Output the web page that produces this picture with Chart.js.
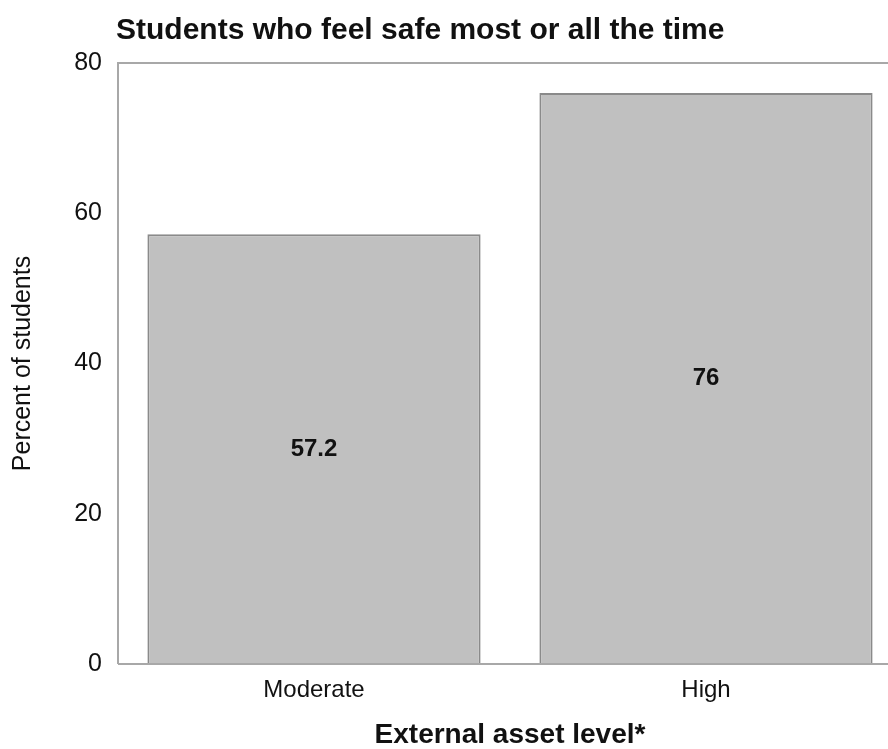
<!DOCTYPE html>
<html>
<head>
<meta charset="utf-8">
<script src="https://cdn.jsdelivr.net/npm/chart.js@4.4.1/dist/chart.umd.min.js"></script>
<style>
  html, body { margin: 0; padding: 0; background: #fff; overflow: hidden; }
  .wrap { width: 902px; height: 749px; }
</style>
</head>
<body>
<div class="wrap"><canvas id="safeChart" width="902" height="749"></canvas></div>
<script>
const categories = ['Moderate', 'High']
const percentSafe = [57.2, 76]
const yTicks = [0, 20, 40, 60, 80]
const chartTitle = 'Students who feel safe most or all the time'

const FONT = '"Liberation Sans", Arial, sans-serif'

// frame, title and value labels
const decorPlugin = {
  id: 'decor',
  afterDraw(chart) {
    const { ctx, chartArea } = chart
    ctx.save()
    ctx.strokeStyle = '#a8a8a8'
    ctx.lineWidth = 2
    ctx.beginPath()
    ctx.moveTo(chartArea.left, chartArea.bottom)
    ctx.lineTo(chartArea.left, chartArea.top)
    ctx.lineTo(chartArea.right, chartArea.top)
    ctx.moveTo(chartArea.left, chartArea.bottom)
    ctx.lineTo(chartArea.right, chartArea.bottom)
    ctx.stroke()

    ctx.fillStyle = '#111'
    ctx.font = 'bold 30px ' + FONT
    ctx.textAlign = 'left'
    ctx.textBaseline = 'middle'
    ctx.fillText(chartTitle, chartArea.left - 2, 31)

    ctx.font = 'bold 24px ' + FONT
    ctx.textAlign = 'center'
    const meta = chart.getDatasetMeta(0)
    meta.data.forEach((bar, i) => {
      const mid = (bar.y + bar.base) / 2
      ctx.fillText(String(percentSafe[i]), bar.x, mid)
    })
    ctx.restore()
  },
}

const ctx = document.getElementById('safeChart').getContext('2d')
new Chart(ctx, {
  type: 'bar',
  data: {
    labels: categories,
    datasets: [
      {
        data: percentSafe,
        backgroundColor: '#c0c0c0',
        borderColor: '#8a8a8a',
        borderWidth: 2,
        categoryPercentage: 0.85,
        barPercentage: 1.0,
      },
    ],
  },
  options: {
    responsive: false,
    animation: false,
    layout: { padding: { top: 63, right: 0, left: 0, bottom: 0 } },
    plugins: {
      legend: { display: false },
      tooltip: { enabled: false },
    },
    scales: {
      x: {
        grid: { display: false, drawTicks: false },
        border: { display: false },
        ticks: { color: '#111', font: { family: FONT, size: 24 }, padding: 12 },
        title: {
          display: true,
          text: 'External asset level*',
          color: '#111',
          font: { family: FONT, size: 28, weight: 'bold', lineHeight: 1 },
          padding: { top: 10, bottom: 0 },
        },
        afterFit: (scale) => { scale.height = 85 },
      },
      y: {
        min: 0,
        max: 80,
        afterBuildTicks: (scale) => { scale.ticks = yTicks.map(v => ({ value: v })) },
        grid: { display: false, drawTicks: false },
        border: { display: false },
        ticks: { color: '#111', font: { family: FONT, size: 25 }, padding: 16 },
        title: {
          display: true,
          text: 'Percent of students',
          color: '#111',
          font: { family: FONT, size: 25 },
          padding: { top: 8 },
        },
        afterFit: (scale) => { scale.width = 118 },
      },
    },
  },
  plugins: [decorPlugin],
})
</script>
</body>
</html>
